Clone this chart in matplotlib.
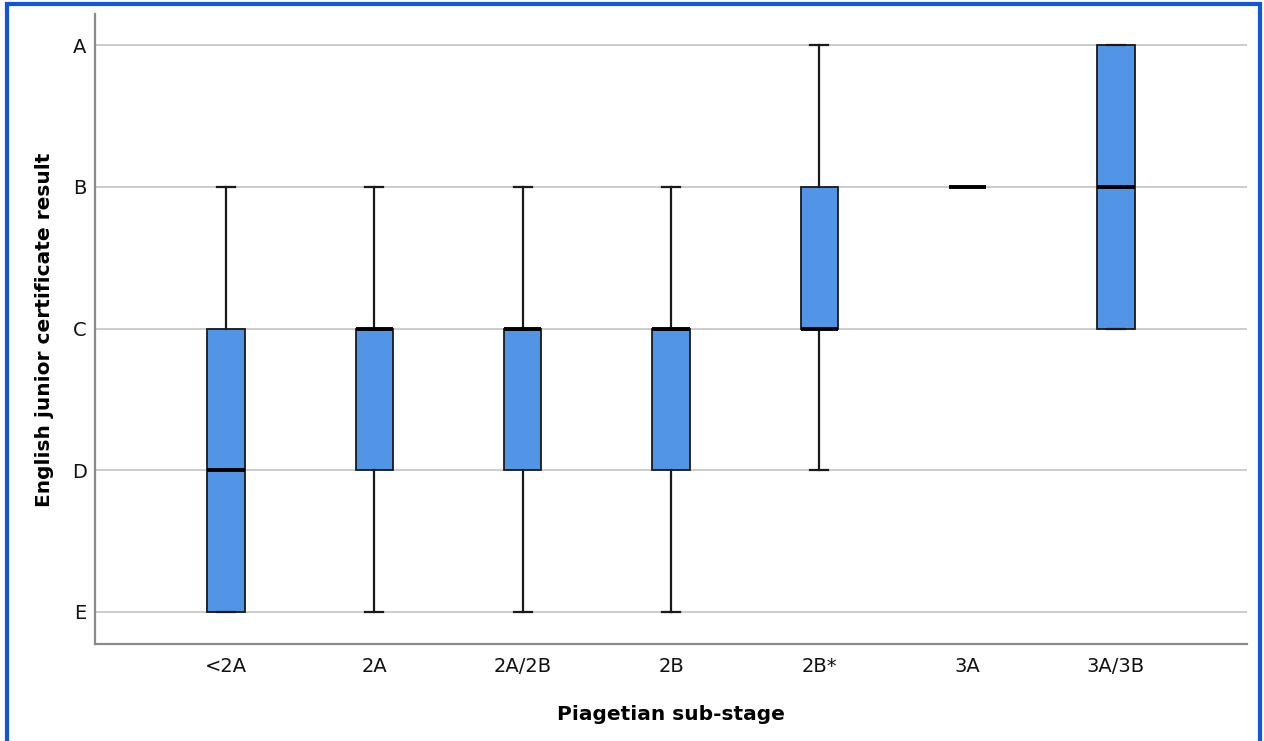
import matplotlib
matplotlib.use("Agg")
import matplotlib.pyplot as plt
from matplotlib.patches import Rectangle

# Piagetian sub-stages and grade summaries (E=1 ... A=5)
stages = ["<2A", "2A", "2A/2B", "2B", "2B*", "3A", "3A/3B"]
whisker_low = [1, 1, 1, 1, 2, 4, 3]
q1 = [1, 2, 2, 2, 3, 4, 3]
median = [2, 3, 3, 3, 3, 4, 4]
q3 = [3, 3, 3, 3, 4, 4, 5]
whisker_high = [4, 4, 4, 4, 5, 4, 5]

grade_values = [1, 2, 3, 4, 5]
grade_labels = ["E", "D", "C", "B", "A"]

plt.rcParams["font.family"] = ["DejaVu Sans"]

fig = plt.figure(figsize=(12.64, 7.41), dpi=100)
W, H = 1264, 741
ax = fig.add_axes([95 / W, 1 - 644 / H, (1247 - 95) / W, (644 - 14) / H])

stats = []
for i, name in enumerate(stages):
    stats.append(dict(label=name, whislo=whisker_low[i], q1=q1[i], med=median[i],
                      q3=q3[i], whishi=whisker_high[i], fliers=[]))

positions = list(range(len(stages)))
ax.bxp(stats, positions=positions, widths=0.25, patch_artist=True,
       showfliers=False, capwidths=0.12,
       boxprops=dict(facecolor="#5294e6", edgecolor="#1a1a1a", linewidth=1.3),
       medianprops=dict(color="black", linewidth=2.8),
       whiskerprops=dict(color="#1a1a1a", linewidth=1.6),
       capprops=dict(color="#1a1a1a", linewidth=1.6),
       zorder=3)

ax.set_xlim(-0.883, len(stages) - 1 + 0.883)
ax.set_ylim(0.774, 5.219)
ax.set_yticks(grade_values)
ax.set_yticklabels(grade_labels)
ax.set_xticks(positions)
ax.set_xticklabels(stages)
ax.yaxis.grid(True, color="#c4c4c4", linewidth=1.2, zorder=0)
ax.set_axisbelow(True)
ax.tick_params(axis="both", length=0, labelsize=14, colors="#111111")
ax.tick_params(axis="y", pad=6)
ax.tick_params(axis="x", pad=9)

for side in ["top", "right"]:
    ax.spines[side].set_visible(False)
for side in ["left", "bottom"]:
    ax.spines[side].set_color("#8a8a8a")
    ax.spines[side].set_linewidth(1.6)

ax.set_xlabel("Piagetian sub-stage", fontsize=14.5, fontweight="bold", va="center")
ax.set_ylabel("English junior certificate result", fontsize=14.5, fontweight="bold",
              va="center")
ax.xaxis.set_label_coords(0.5, (644 - 714) / 630)
ax.yaxis.set_label_coords((45 - 95) / 1152, (644 - 330) / 630)

# Blue frame around the chart
fig.patches.append(Rectangle((7 / W, -0.05), (1260 - 7) / W, 1.05 - 4.5 / H,
                             transform=fig.transFigure, fill=False,
                             edgecolor="#1155dd", linewidth=3, zorder=10))

fig.savefig("out.png", dpi=100, facecolor="white")
